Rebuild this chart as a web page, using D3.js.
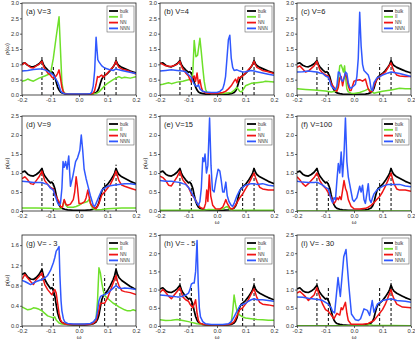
<!DOCTYPE html>
<html>
<head>
<meta charset="utf-8">
<script src="https://cdn.jsdelivr.net/npm/d3@7"></script>
<style>
  body { margin: 0; background: #fff; }
  svg { display: block; font-family: "Liberation Sans", Arial, sans-serif; }
</style>
</head>
<body>
<svg id="chart" width="415" height="344"></svg>
<script>
// omega axis ticks and reference energies (dashed markers)
var omegaTicks = [-0.2, -0.1, 0.0, 0.1, 0.2];
var dashOmega = [-0.13, -0.09, 0.09, 0.13];
var legendNames = ['bulk', 'II', 'NN', 'NNN'];

// bulk DOS, same in every panel
var bulk = [[-0.2,1.02],[-0.19,1.05],[-0.18,0.97],[-0.17,0.93],[-0.16,0.92],[-0.15,0.96],[-0.14,1.02],[-0.13,1.12],[-0.125,1.0],[-0.12,0.92],[-0.11,0.82],[-0.1,0.74],[-0.095,0.76],[-0.09,0.7],[-0.085,0.6],[-0.08,0.42],[-0.075,0.26],[-0.07,0.16],[-0.065,0.1],[-0.06,0.07],[-0.05,0.045],[-0.04,0.03],[-0.02,0.02],[0,0.02],[0.02,0.02],[0.04,0.03],[0.05,0.045],[0.06,0.08],[0.065,0.13],[0.07,0.22],[0.075,0.38],[0.08,0.52],[0.085,0.6],[0.09,0.63],[0.1,0.7],[0.11,0.8],[0.12,0.92],[0.125,1.0],[0.13,1.12],[0.135,1.02],[0.14,0.96],[0.15,0.9],[0.16,0.86],[0.17,0.82],[0.18,0.78],[0.19,0.75],[0.2,0.72]];

// (a) V=3
var iiA = [[-0.2,0.45],[-0.19,0.47],[-0.18,0.52],[-0.17,0.48],[-0.16,0.45],[-0.15,0.5],[-0.14,0.55],[-0.12,0.62],[-0.1,0.7],[-0.09,1.2],[-0.08,1.9],[-0.07,2.55],[-0.06,0.4],[-0.055,0.12],[-0.05,0.06],[-0.04,0.03],[0,0.02],[0.04,0.03],[0.06,0.05],[0.07,0.1],[0.08,0.2],[0.09,0.3],[0.1,0.38],[0.12,0.5],[0.13,0.55],[0.14,0.6],[0.15,0.55],[0.16,0.58],[0.18,0.55],[0.2,0.6]];
var nnA = [[-0.2,0.98],[-0.19,1.05],[-0.18,0.97],[-0.17,0.9],[-0.16,0.88],[-0.15,0.95],[-0.14,1.0],[-0.13,1.1],[-0.125,0.95],[-0.12,0.85],[-0.11,0.72],[-0.1,0.65],[-0.095,0.58],[-0.09,0.55],[-0.085,0.6],[-0.08,0.62],[-0.075,0.7],[-0.07,0.82],[-0.065,0.55],[-0.06,0.25],[-0.055,0.1],[-0.05,0.05],[-0.04,0.03],[0,0.02],[0.04,0.03],[0.05,0.06],[0.055,0.15],[0.06,0.35],[0.065,0.6],[0.07,0.58],[0.075,0.62],[0.08,0.65],[0.085,0.58],[0.09,0.62],[0.1,0.72],[0.11,0.82],[0.12,0.92],[0.13,1.1],[0.135,0.98],[0.14,0.9],[0.15,0.85],[0.16,0.82],[0.17,0.8],[0.18,0.76],[0.19,0.72],[0.2,0.68]];
var nnnA = [[-0.2,0.78],[-0.18,0.8],[-0.16,0.83],[-0.14,0.85],[-0.13,0.85],[-0.12,0.82],[-0.11,0.78],[-0.1,0.72],[-0.09,0.65],[-0.085,0.58],[-0.08,0.5],[-0.075,0.42],[-0.07,0.3],[-0.065,0.15],[-0.06,0.08],[-0.05,0.04],[-0.03,0.03],[0.03,0.03],[0.04,0.05],[0.045,0.1],[0.05,0.3],[0.055,0.8],[0.06,1.88],[0.063,1.5],[0.066,1.15],[0.07,1.08],[0.08,0.95],[0.09,0.88],[0.1,0.85],[0.11,0.82],[0.12,0.8],[0.13,0.85],[0.14,0.82],[0.15,0.8],[0.17,0.76],[0.2,0.7]];

// (b) V=4
var iiB = [[-0.2,0.33],[-0.19,0.35],[-0.17,0.4],[-0.16,0.37],[-0.14,0.42],[-0.12,0.45],[-0.1,0.5],[-0.09,0.52],[-0.085,0.7],[-0.08,1.78],[-0.074,1.25],[-0.068,1.3],[-0.06,1.85],[-0.055,1.4],[-0.05,0.9],[-0.045,0.45],[-0.04,0.18],[-0.035,0.08],[-0.02,0.05],[0.02,0.05],[0.05,0.08],[0.06,0.15],[0.07,0.25],[0.08,0.12],[0.085,0.1],[0.09,0.15],[0.1,0.3],[0.12,0.38],[0.14,0.4],[0.16,0.42],[0.17,0.45],[0.2,0.42]];
var nnB = [[-0.2,1.05],[-0.19,1.0],[-0.18,0.95],[-0.16,0.93],[-0.14,1.0],[-0.13,1.1],[-0.125,0.95],[-0.12,0.85],[-0.11,0.72],[-0.1,0.62],[-0.095,0.5],[-0.09,0.42],[-0.085,0.55],[-0.08,0.62],[-0.075,0.45],[-0.07,0.72],[-0.065,0.35],[-0.06,0.5],[-0.055,0.25],[-0.05,0.12],[-0.04,0.07],[-0.02,0.05],[0,0.05],[0.02,0.08],[0.03,0.12],[0.04,0.2],[0.05,0.3],[0.06,0.45],[0.065,0.52],[0.07,0.4],[0.075,0.58],[0.08,0.55],[0.085,0.6],[0.09,0.62],[0.1,0.72],[0.11,0.82],[0.12,0.92],[0.13,1.1],[0.135,0.98],[0.14,0.9],[0.15,0.85],[0.16,0.8],[0.18,0.76],[0.2,0.7]];
var nnnB = [[-0.2,0.78],[-0.18,0.8],[-0.16,0.82],[-0.14,0.8],[-0.12,0.78],[-0.11,0.76],[-0.1,0.66],[-0.09,0.58],[-0.085,0.45],[-0.08,0.35],[-0.075,0.3],[-0.07,0.28],[-0.065,0.33],[-0.06,0.2],[-0.05,0.12],[-0.04,0.1],[-0.02,0.08],[0,0.08],[0.01,0.12],[0.02,0.2],[0.025,0.35],[0.03,0.6],[0.035,1.2],[0.04,1.8],[0.045,1.95],[0.05,1.2],[0.055,0.9],[0.06,0.8],[0.07,0.82],[0.08,0.78],[0.09,0.75],[0.1,0.76],[0.12,0.8],[0.13,0.78],[0.14,0.76],[0.16,0.72],[0.18,0.68],[0.2,0.64]];

// (c) V=6
var iiC = [[-0.2,0.2],[-0.17,0.18],[-0.14,0.16],[-0.12,0.15],[-0.1,0.13],[-0.08,0.1],[-0.065,0.12],[-0.06,0.2],[-0.055,0.5],[-0.05,0.95],[-0.045,0.98],[-0.04,0.85],[-0.037,0.75],[-0.033,0.95],[-0.03,0.6],[-0.025,0.2],[-0.02,0.1],[-0.01,0.06],[0,0.05],[0.02,0.08],[0.04,0.15],[0.05,0.2],[0.06,0.12],[0.07,0.06],[0.08,0.08],[0.1,0.12],[0.13,0.16],[0.16,0.22],[0.18,0.2],[0.2,0.2]];
var nnC = [[-0.2,0.9],[-0.19,0.95],[-0.18,0.85],[-0.17,0.75],[-0.16,0.78],[-0.14,0.95],[-0.13,1.1],[-0.125,0.95],[-0.12,0.82],[-0.11,0.72],[-0.1,0.65],[-0.09,0.62],[-0.085,0.5],[-0.08,0.38],[-0.07,0.25],[-0.065,0.15],[-0.06,0.12],[-0.055,0.25],[-0.05,0.55],[-0.045,0.6],[-0.04,0.3],[-0.035,0.55],[-0.03,0.7],[-0.025,0.55],[-0.02,0.3],[-0.015,0.15],[-0.01,0.15],[-0.005,0.3],[0,0.45],[0.01,0.48],[0.02,0.5],[0.03,0.45],[0.04,0.52],[0.045,0.35],[0.05,0.2],[0.055,0.12],[0.06,0.1],[0.065,0.15],[0.07,0.3],[0.08,0.5],[0.09,0.6],[0.1,0.68],[0.11,0.75],[0.12,0.9],[0.13,1.05],[0.135,0.9],[0.14,0.78],[0.15,0.65],[0.16,0.62],[0.18,0.6],[0.2,0.6]];
var nnnC = [[-0.2,0.75],[-0.18,0.76],[-0.16,0.78],[-0.14,0.76],[-0.13,0.75],[-0.12,0.72],[-0.11,0.7],[-0.1,0.62],[-0.09,0.58],[-0.085,0.45],[-0.08,0.3],[-0.07,0.2],[-0.065,0.18],[-0.06,0.3],[-0.055,0.75],[-0.05,0.72],[-0.045,0.5],[-0.04,0.45],[-0.035,0.55],[-0.03,0.75],[-0.025,0.7],[-0.02,0.4],[-0.015,0.25],[-0.01,0.22],[0,0.3],[0.005,0.35],[0.01,0.6],[0.015,1.2],[0.02,2.7],[0.025,1.6],[0.03,1.0],[0.035,0.8],[0.04,0.75],[0.05,0.65],[0.055,0.5],[0.06,0.2],[0.065,0.15],[0.07,0.4],[0.08,0.55],[0.09,0.6],[0.1,0.65],[0.12,0.72],[0.13,0.75],[0.15,0.72],[0.16,0.7],[0.18,0.65],[0.2,0.6]];

// (d) V=9
var iiD = [[-0.2,0.08],[-0.15,0.08],[-0.1,0.07],[-0.08,0.05],[-0.065,0.06],[-0.058,0.12],[-0.052,0.28],[-0.046,0.15],[-0.04,0.1],[-0.02,0.1],[-0.01,0.12],[0,0.15],[0.01,0.2],[0.02,0.22],[0.03,0.25],[0.037,0.32],[0.042,0.15],[0.05,0.06],[0.06,0.03],[0.08,0.04],[0.1,0.06],[0.15,0.08],[0.2,0.08]];
var nnD = [[-0.2,0.85],[-0.19,0.9],[-0.18,0.82],[-0.17,0.72],[-0.16,0.7],[-0.15,0.8],[-0.14,0.9],[-0.13,1.05],[-0.125,0.92],[-0.12,0.8],[-0.11,0.7],[-0.1,0.62],[-0.09,0.58],[-0.085,0.45],[-0.08,0.38],[-0.07,0.25],[-0.065,0.12],[-0.058,0.1],[-0.052,0.3],[-0.046,0.18],[-0.04,0.15],[-0.03,0.18],[-0.02,0.3],[-0.015,0.5],[-0.01,0.9],[-0.005,0.6],[0,0.2],[0.01,0.2],[0.02,0.25],[0.025,0.35],[0.031,0.55],[0.036,0.35],[0.04,0.2],[0.05,0.1],[0.06,0.06],[0.07,0.2],[0.08,0.42],[0.09,0.5],[0.1,0.6],[0.11,0.7],[0.12,0.85],[0.13,1.05],[0.135,0.92],[0.14,0.8],[0.15,0.68],[0.16,0.65],[0.18,0.6],[0.2,0.55]];
var nnnD = [[-0.2,0.78],[-0.18,0.77],[-0.16,0.75],[-0.14,0.75],[-0.13,0.75],[-0.12,0.72],[-0.11,0.7],[-0.1,0.6],[-0.09,0.55],[-0.085,0.42],[-0.08,0.32],[-0.075,0.22],[-0.07,0.15],[-0.065,0.2],[-0.06,0.6],[-0.056,1.3],[-0.052,1.15],[-0.047,1.3],[-0.042,1.1],[-0.036,1.45],[-0.03,0.65],[-0.022,0.9],[-0.012,1.3],[-0.005,1.4],[0.003,1.6],[0.008,2.0],[0.013,1.6],[0.018,1.1],[0.025,0.85],[0.03,0.7],[0.04,0.4],[0.05,0.15],[0.055,0.12],[0.06,0.2],[0.07,0.38],[0.08,0.55],[0.09,0.6],[0.1,0.65],[0.12,0.68],[0.14,0.7],[0.16,0.72],[0.18,0.72],[0.2,0.7]];

// (e) V=15
var iiE = [[-0.2,0.02],[-0.05,0.02],[-0.03,0.04],[0,0.03],[0.02,0.05],[0.03,0.1],[0.036,0.12],[0.045,0.03],[0.06,0.02],[0.2,0.02]];
var nnE = [[-0.2,0.92],[-0.19,0.88],[-0.18,0.8],[-0.17,0.68],[-0.16,0.66],[-0.15,0.78],[-0.14,0.9],[-0.13,1.05],[-0.125,0.92],[-0.12,0.82],[-0.11,0.72],[-0.1,0.62],[-0.09,0.45],[-0.08,0.35],[-0.07,0.22],[-0.06,0.1],[-0.05,0.06],[-0.045,0.08],[-0.04,0.2],[-0.036,0.55],[-0.032,0.25],[-0.027,0.95],[-0.022,0.4],[-0.015,0.15],[-0.005,0.06],[0.01,0.05],[0.02,0.1],[0.026,0.2],[0.031,0.3],[0.036,0.2],[0.045,0.08],[0.055,0.05],[0.065,0.15],[0.07,0.22],[0.08,0.35],[0.09,0.45],[0.1,0.58],[0.11,0.7],[0.12,0.85],[0.13,1.0],[0.135,0.88],[0.14,0.78],[0.15,0.62],[0.16,0.58],[0.18,0.55],[0.2,0.55]];
var nnnE = [[-0.2,0.8],[-0.18,0.78],[-0.16,0.78],[-0.14,0.76],[-0.13,0.75],[-0.12,0.72],[-0.11,0.7],[-0.1,0.62],[-0.09,0.5],[-0.08,0.35],[-0.07,0.2],[-0.065,0.15],[-0.06,0.25],[-0.055,0.6],[-0.05,1.4],[-0.046,1.3],[-0.042,1.5],[-0.037,1.0],[-0.032,1.2],[-0.026,2.45],[-0.021,1.2],[-0.016,0.55],[-0.01,0.5],[-0.004,0.8],[0.004,1.1],[0.01,1.05],[0.015,0.8],[0.02,0.5],[0.025,0.5],[0.031,0.76],[0.036,0.4],[0.042,0.25],[0.05,0.15],[0.055,0.12],[0.06,0.2],[0.07,0.4],[0.08,0.55],[0.09,0.62],[0.1,0.68],[0.12,0.72],[0.13,0.72],[0.14,0.7],[0.16,0.72],[0.18,0.68],[0.2,0.66]];

// (f) V=100
var iiF = [[-0.2,0.0],[0.0,0.0],[0.2,0.0]];
var nnF = [[-0.2,0.9],[-0.19,0.82],[-0.18,0.72],[-0.17,0.65],[-0.16,0.72],[-0.15,0.8],[-0.14,0.88],[-0.13,1.0],[-0.125,0.9],[-0.12,0.8],[-0.11,0.68],[-0.1,0.6],[-0.09,0.48],[-0.08,0.35],[-0.07,0.2],[-0.065,0.25],[-0.06,0.35],[-0.055,0.3],[-0.05,0.38],[-0.045,0.3],[-0.04,0.55],[-0.035,0.8],[-0.03,0.6],[-0.025,0.5],[-0.02,0.3],[-0.01,0.12],[0,0.06],[0.02,0.05],[0.04,0.07],[0.05,0.1],[0.06,0.15],[0.07,0.22],[0.08,0.3],[0.09,0.38],[0.1,0.5],[0.11,0.65],[0.12,0.82],[0.13,1.0],[0.135,0.85],[0.14,0.72],[0.15,0.58],[0.16,0.55],[0.18,0.55],[0.2,0.52]];
var nnnF = [[-0.2,0.78],[-0.18,0.76],[-0.16,0.75],[-0.14,0.75],[-0.13,0.76],[-0.12,0.72],[-0.11,0.68],[-0.1,0.62],[-0.09,0.58],[-0.085,0.45],[-0.08,0.3],[-0.075,0.22],[-0.07,0.35],[-0.065,0.3],[-0.06,0.8],[-0.055,1.25],[-0.05,1.0],[-0.045,1.55],[-0.04,0.9],[-0.035,1.5],[-0.03,2.45],[-0.025,1.3],[-0.02,0.9],[-0.015,0.7],[-0.01,0.5],[-0.005,0.3],[0,0.25],[0.005,0.3],[0.01,0.35],[0.02,0.65],[0.025,0.5],[0.03,0.68],[0.035,0.3],[0.04,0.2],[0.045,0.45],[0.05,0.72],[0.055,0.3],[0.06,0.22],[0.065,0.35],[0.07,0.45],[0.08,0.55],[0.09,0.6],[0.1,0.65],[0.12,0.7],[0.14,0.7],[0.16,0.7],[0.18,0.66],[0.2,0.64]];

// (g) V=-3
var iiG = [[-0.2,0.38],[-0.19,0.35],[-0.18,0.32],[-0.17,0.33],[-0.16,0.36],[-0.15,0.35],[-0.14,0.33],[-0.13,0.3],[-0.12,0.25],[-0.11,0.2],[-0.1,0.18],[-0.09,0.16],[-0.085,0.18],[-0.08,0.12],[-0.07,0.06],[-0.06,0.04],[-0.04,0.03],[0,0.03],[0.04,0.04],[0.05,0.06],[0.06,0.15],[0.065,0.5],[0.07,1.15],[0.075,1.05],[0.08,0.85],[0.085,0.7],[0.09,0.6],[0.1,0.55],[0.11,0.5],[0.12,0.45],[0.13,0.42],[0.14,0.38],[0.15,0.35],[0.16,0.32],[0.17,0.3],[0.18,0.3],[0.19,0.32],[0.2,0.3]];
var nnG = [[-0.2,0.92],[-0.19,1.02],[-0.18,0.95],[-0.17,0.88],[-0.16,0.82],[-0.15,0.92],[-0.14,0.98],[-0.13,1.05],[-0.125,0.92],[-0.12,0.82],[-0.11,0.72],[-0.1,0.65],[-0.095,0.62],[-0.09,0.68],[-0.085,0.72],[-0.08,0.65],[-0.075,0.45],[-0.07,0.25],[-0.065,0.12],[-0.06,0.07],[-0.05,0.04],[-0.03,0.03],[0.03,0.03],[0.05,0.05],[0.06,0.1],[0.065,0.2],[0.07,0.32],[0.075,0.45],[0.08,0.45],[0.09,0.45],[0.095,0.5],[0.1,0.55],[0.11,0.7],[0.12,0.85],[0.13,1.0],[0.135,0.88],[0.14,0.8],[0.15,0.7],[0.16,0.68],[0.18,0.66],[0.2,0.62]];
var nnnG = [[-0.2,0.9],[-0.19,0.88],[-0.18,0.85],[-0.17,0.82],[-0.16,0.85],[-0.15,0.88],[-0.14,0.9],[-0.13,0.92],[-0.12,0.95],[-0.11,1.0],[-0.1,1.1],[-0.09,1.25],[-0.085,1.35],[-0.08,1.48],[-0.075,1.52],[-0.07,1.57],[-0.067,1.0],[-0.063,0.5],[-0.06,0.3],[-0.055,0.15],[-0.05,0.08],[-0.04,0.05],[-0.02,0.04],[0.02,0.04],[0.04,0.05],[0.05,0.08],[0.06,0.15],[0.065,0.3],[0.07,0.5],[0.075,0.58],[0.08,0.6],[0.09,0.62],[0.1,0.65],[0.11,0.7],[0.12,0.75],[0.13,0.8],[0.14,0.75],[0.15,0.74],[0.16,0.75],[0.18,0.74],[0.2,0.72]];

// (h) V=-5
var iiH = [[-0.2,0.17],[-0.18,0.15],[-0.16,0.16],[-0.14,0.18],[-0.12,0.15],[-0.1,0.12],[-0.09,0.1],[-0.08,0.08],[-0.07,0.06],[-0.05,0.04],[0,0.03],[0.04,0.04],[0.05,0.1],[0.055,0.4],[0.06,0.85],[0.065,0.6],[0.07,0.4],[0.08,0.3],[0.09,0.25],[0.1,0.22],[0.12,0.2],[0.14,0.18],[0.16,0.17],[0.18,0.16],[0.2,0.16]];
var nnH = [[-0.2,0.92],[-0.19,1.0],[-0.18,0.92],[-0.17,0.82],[-0.16,0.75],[-0.15,0.85],[-0.14,0.95],[-0.13,1.05],[-0.125,0.92],[-0.12,0.8],[-0.11,0.72],[-0.1,0.68],[-0.095,0.6],[-0.09,0.55],[-0.085,0.5],[-0.08,0.6],[-0.075,0.72],[-0.07,0.35],[-0.065,0.15],[-0.06,0.08],[-0.05,0.05],[-0.03,0.03],[0.03,0.03],[0.05,0.06],[0.06,0.12],[0.07,0.28],[0.08,0.45],[0.09,0.5],[0.1,0.6],[0.11,0.72],[0.12,0.88],[0.13,1.02],[0.135,0.9],[0.14,0.78],[0.15,0.65],[0.16,0.6],[0.18,0.58],[0.2,0.55]];
var nnnH = [[-0.2,0.85],[-0.18,0.84],[-0.16,0.82],[-0.14,0.8],[-0.13,0.8],[-0.12,0.82],[-0.11,0.85],[-0.1,0.9],[-0.095,1.0],[-0.09,1.15],[-0.085,1.18],[-0.08,1.18],[-0.075,1.5],[-0.07,2.35],[-0.066,1.2],[-0.062,0.5],[-0.058,0.25],[-0.05,0.12],[-0.04,0.06],[-0.02,0.04],[0.02,0.04],[0.04,0.06],[0.05,0.12],[0.06,0.25],[0.07,0.4],[0.08,0.55],[0.09,0.6],[0.1,0.62],[0.11,0.68],[0.12,0.72],[0.13,0.75],[0.14,0.72],[0.16,0.72],[0.18,0.7],[0.2,0.68]];

// (i) V=-30
var iiI = [[-0.2,0.01],[0.04,0.01],[0.055,0.04],[0.065,0.02],[0.2,0.01]];
var nnI = [[-0.2,0.9],[-0.19,0.95],[-0.18,0.88],[-0.17,0.8],[-0.16,0.7],[-0.15,0.78],[-0.14,0.85],[-0.13,1.05],[-0.125,0.92],[-0.12,0.8],[-0.11,0.6],[-0.1,0.45],[-0.09,0.4],[-0.08,0.3],[-0.07,0.2],[-0.06,0.35],[-0.05,0.3],[-0.045,0.5],[-0.04,0.45],[-0.035,0.55],[-0.03,0.65],[-0.025,0.35],[-0.02,0.15],[-0.01,0.05],[0.03,0.05],[0.05,0.07],[0.07,0.15],[0.08,0.25],[0.09,0.35],[0.1,0.45],[0.11,0.6],[0.12,0.8],[0.13,1.0],[0.135,0.85],[0.14,0.75],[0.15,0.6],[0.17,0.52],[0.2,0.5]];
var nnnI = [[-0.2,0.8],[-0.18,0.79],[-0.16,0.76],[-0.14,0.74],[-0.12,0.72],[-0.11,0.7],[-0.1,0.65],[-0.09,0.6],[-0.08,0.5],[-0.075,0.4],[-0.068,0.36],[-0.056,1.33],[-0.048,0.81],[-0.036,1.9],[-0.028,2.1],[-0.018,1.1],[-0.009,0.33],[0.005,0.17],[0.015,0.15],[0.023,0.2],[0.035,0.47],[0.047,0.43],[0.055,0.29],[0.064,0.7],[0.07,0.38],[0.082,0.6],[0.1,0.7],[0.13,0.75],[0.15,0.7],[0.18,0.68],[0.2,0.65]];

// tick values per y range
var yTicks30 = [0, 0.5, 1.0, 1.5, 2.0, 2.5, 3.0];
var yTicks25 = [0, 0.5, 1.0, 1.5, 2.0, 2.5];
var yTicks16 = [0, 0.4, 0.8, 1.2, 1.6];

// heights of the dashed markers, per panel
var dashA = [1.28, 0.98, 0.98, 1.28];
var dashB = [1.3, 0.95, 0.95, 1.3];
var dashC = [1.3, 1.0, 1.0, 1.3];
var dashD = [1.18, 0.8, 0.8, 1.22];
var dashE = [1.1, 0.8, 0.8, 1.14];
var dashF = [1.15, 0.8, 0.8, 1.15];
var dashG = [1.26, 1.03, 1.0, 1.26];
var dashH = [1.4, 1.05, 1.05, 1.35];
var dashI = [1.28, 1.1, 1.1, 1.25];

var colors = ['#000000', '#6ee02a', '#f01414', '#3058ff'];

var colX = [22, 160, 297];
var rowY = [[3, 95], [116, 211], [235, 326]];
var plotW = 114;

var panels = [
  {label: '(a) V=3',    s: [bulk, iiA, nnA, nnnA], ymax: 3.0, ticks: yTicks30, dash: dashA, c: 0, r: 0, ylab: true},
  {label: '(b) V=4',    s: [bulk, iiB, nnB, nnnB], ymax: 3.0, ticks: yTicks30, dash: dashB, c: 1, r: 0},
  {label: '(c) V=6',    s: [bulk, iiC, nnC, nnnC], ymax: 3.0, ticks: yTicks30, dash: dashC, c: 2, r: 0},
  {label: '(d) V=9',    s: [bulk, iiD, nnD, nnnD], ymax: 2.5, ticks: yTicks25, dash: dashD, c: 0, r: 1, ylab: true},
  {label: '(e) V=15',   s: [bulk, iiE, nnE, nnnE], ymax: 2.5, ticks: yTicks25, dash: dashE, c: 1, r: 1, ylab: true, xlab: true},
  {label: '(f) V=100',  s: [bulk, iiF, nnF, nnnF], ymax: 2.5, ticks: yTicks25, dash: dashF, c: 2, r: 1, xlab: true},
  {label: '(g) V= - 3', s: [bulk, iiG, nnG, nnnG], ymax: 1.8, ticks: yTicks16, dash: dashG, c: 0, r: 2, ylab: true, xlab: true},
  {label: '(h) V= - 5', s: [bulk, iiH, nnH, nnnH], ymax: 2.5, ticks: yTicks25, dash: dashH, c: 1, r: 2, xlab: true},
  {label: '(i) V= - 30',s: [bulk, iiI, nnI, nnnI], ymax: 2.5, ticks: yTicks25, dash: dashI, c: 2, r: 2, xlab: true}
];

var svg = d3.select('#chart');
svg.append('rect').attr('width', 415).attr('height', 344).attr('fill', '#fff');

panels.forEach(function(p, i) {
  var x0 = colX[p.c], y0 = rowY[p.r][0], y1 = rowY[p.r][1];
  var x = d3.scaleLinear().domain([-0.2, 0.2]).range([x0, x0 + plotW]);
  var y = d3.scaleLinear().domain([0, p.ymax]).range([y1, y0]);

  var g = svg.append('g');
  var clipId = 'clip' + i;
  g.append('clipPath').attr('id', clipId)
    .append('rect').attr('x', x0).attr('y', y0).attr('width', plotW).attr('height', y1 - y0);

  // dashed markers
  g.selectAll('line.dash').data(dashOmega).enter().append('line')
    .attr('class', 'dash')
    .attr('x1', function(d) { return x(d); })
    .attr('x2', function(d) { return x(d); })
    .attr('y1', y(0))
    .attr('y2', function(d, k) { return y(p.dash[k]); })
    .attr('stroke', '#000')
    .attr('stroke-width', 1)
    .style('stroke-dasharray', '3,2');

  var line = d3.line()
    .x(function(d) { return x(d[0]); })
    .y(function(d) { return y(d[1]); });

  var curves = g.append('g').attr('clip-path', 'url(#' + clipId + ')');
  p.s.forEach(function(series, k) {
    curves.append('path')
      .datum(series)
      .attr('d', line)
      .attr('fill', 'none')
      .attr('stroke', colors[k])
      .attr('stroke-width', k === 0 ? 1.7 : 1.5)
      .attr('stroke-linejoin', 'round');
  });

  // axes
  var xAxis = d3.axisBottom(x).tickValues(omegaTicks).tickSize(2).tickPadding(1)
    .tickFormat(d3.format('.1f'));
  var yAxis = d3.axisLeft(y).tickValues(p.ticks).tickSize(2).tickPadding(1)
    .tickFormat(d3.format('.1f'));

  var gx = g.append('g').attr('transform', 'translate(0,' + y1 + ')').call(xAxis);
  var gy = g.append('g').attr('transform', 'translate(' + x0 + ',0)').call(yAxis);
  [gx, gy].forEach(function(a) {
    a.select('.domain').remove();
    a.selectAll('line').attr('stroke', '#222').attr('stroke-width', 0.7);
    a.selectAll('text').attr('font-size', 5.8).attr('fill', '#333')
      .attr('font-family', '"Liberation Sans", Arial, sans-serif');
  });
  gx.selectAll('text').text(function(d) { return d3.format('.1f')(d).replace('−', '-'); });

  g.append('rect')
    .attr('x', x0).attr('y', y0).attr('width', plotW).attr('height', y1 - y0)
    .attr('fill', 'none').attr('stroke', '#222').attr('stroke-width', 0.8);

  // panel label
  g.append('text')
    .attr('x', x0 + 4).attr('y', y0 + 11)
    .attr('font-size', 7.5).attr('fill', '#222')
    .text(p.label);

  // legend
  var lx = x0 + plotW - 29, ly = y0 + 3;
  g.append('rect').attr('x', lx).attr('y', ly).attr('width', 27).attr('height', 26)
    .attr('fill', '#fff').attr('stroke', '#666').attr('stroke-width', 0.6);
  legendNames.forEach(function(name, k) {
    var yy = ly + 5 + k * 5.8;
    g.append('line').attr('x1', lx + 2).attr('x2', lx + 11).attr('y1', yy).attr('y2', yy)
      .attr('stroke', colors[k]).attr('stroke-width', 1.8);
    g.append('text').attr('x', lx + 13).attr('y', yy + 1.6)
      .attr('font-size', 4.5).attr('fill', '#333').text(name);
  });

  if (p.ylab) {
    g.append('text')
      .attr('transform', 'translate(' + (x0 - 13) + ',' + ((y0 + y1) / 2) + ') rotate(-90)')
      .attr('text-anchor', 'middle').attr('font-size', 6).attr('fill', '#222')
      .text('ρ(ω)');
  }
  if (p.xlab) {
    g.append('text')
      .attr('x', x0 + plotW / 2).attr('y', y1 + 13)
      .attr('text-anchor', 'middle').attr('font-size', 6).attr('fill', '#222')
      .text('ω');
  }
});
</script>
</body>
</html>
